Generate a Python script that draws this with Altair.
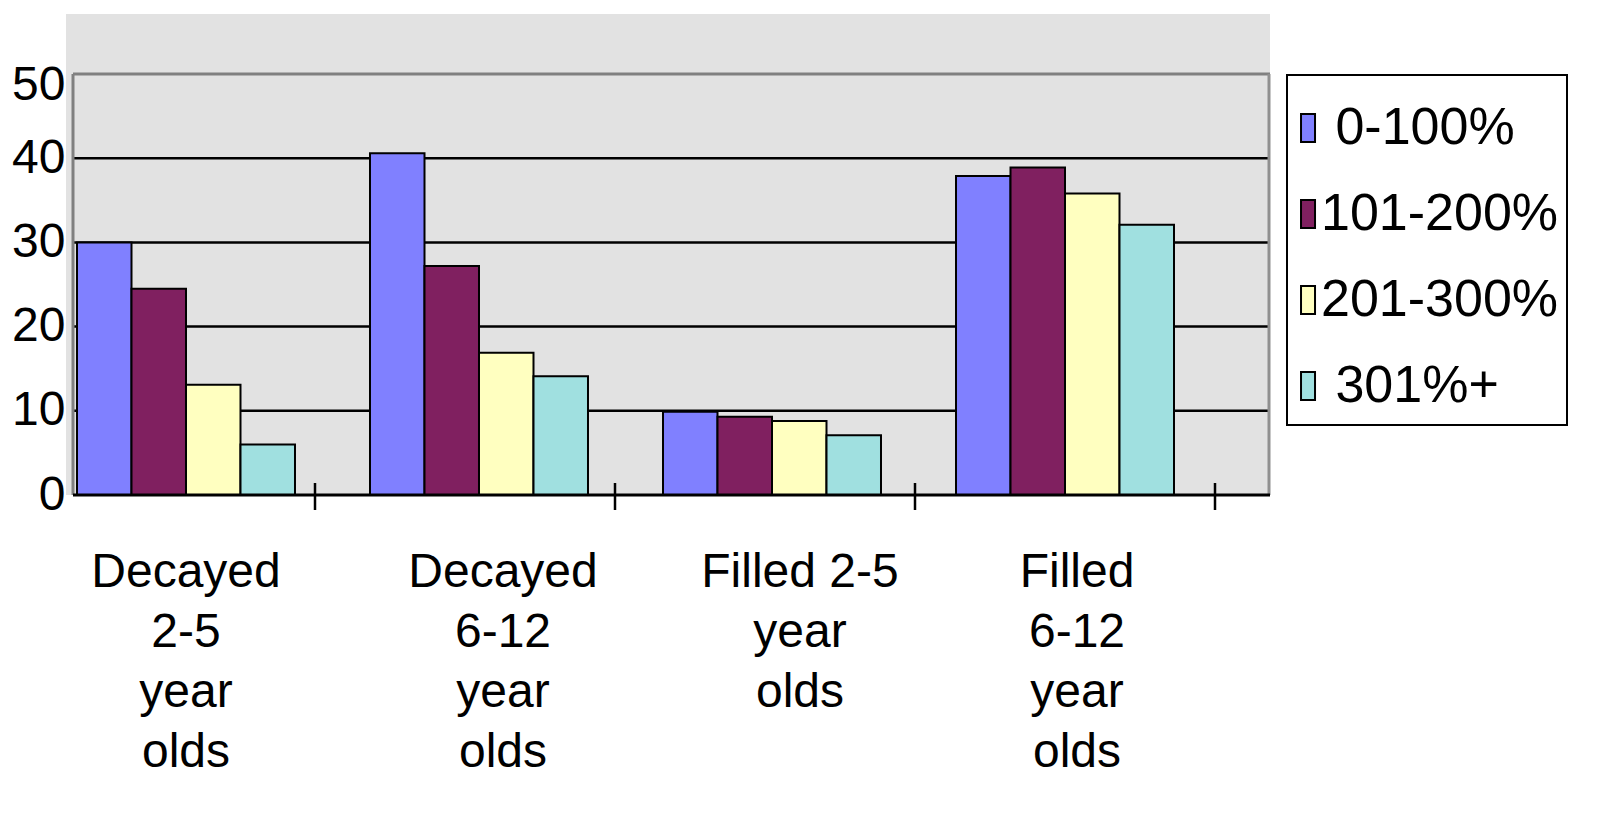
import json
import altair as alt
import pandas as pd

categories = ["Decayed 2-5 year olds", "Decayed 6-12 year olds",
              "Filled 2-5 year olds", "Filled 6-12 year olds"]
category_lines = [["Decayed", "2-5", "year", "olds"],
                  ["Decayed", "6-12", "year", "olds"],
                  ["Filled 2-5", "year", "olds"],
                  ["Filled", "6-12", "year", "olds"]]
series = ["0-100%", "101-200%", "201-300%", "301%+"]
vals_0_100 = [30.0, 40.6, 9.9, 37.9]
vals_101_200 = [24.5, 27.2, 9.3, 38.9]
vals_201_300 = [13.1, 16.9, 8.8, 35.8]
vals_301_plus = [6.0, 14.1, 7.1, 32.1]
y_ticks = [0, 10, 20, 30, 40, 50]
grid_values = [10, 20, 30, 40]
colors = ["#8080FF", "#802060", "#FFFFC0", "#A0E0E0"]

all_vals = [vals_0_100, vals_101_200, vals_201_300, vals_301_plus]
rows = []
for s, vals in zip(series, all_vals):
    for c, v in zip(categories, vals):
        rows.append({"category": c, "series": s, "value": v})
df = pd.DataFrame(rows)
cat_df = pd.DataFrame({"category": categories})
grid_df = pd.DataFrame({"v": grid_values})
one_df = pd.DataFrame({"a": [0]})

W, H = 1204, 481
ymax = 50 * H / 421
FONT = "Liberation Sans"

y_scale = alt.Scale(domain=[0, ymax], nice=False, zero=True)
y_axis = alt.Axis(title=None, values=y_ticks, domain=False, ticks=False, grid=False,
                  labelFontSize=48, labelFont=FONT, labelColor="black", labelPadding=1,
                  labelOffset={"condition": {"test": "datum.value == 50", "value": 11},
                               "value": 0})

label_map = "{" + ",".join(f"{json.dumps(c)}: {json.dumps(l)}" for c, l in zip(categories, category_lines)) + "}[datum.label]"
# per-label horizontal nudge (Excel placed the wrapped labels slightly off-centre)
x_label_offset = {
    "condition": [
        {"test": f"datum.value == '{categories[1]}'", "value": 24},
        {"test": f"datum.value == '{categories[2]}'", "value": 28},
        {"test": f"datum.value == '{categories[3]}'", "value": 12},
    ],
    "value": 0,
}
# Vega trims leading whitespace, so a zero-width char keeps the indent space
legend_expr = "(datum.label == '0-100%' || datum.label == '301%+') ? '\u200b\u00a0' + datum.label : datum.label"

gridlines = alt.Chart(grid_df).mark_rule(color="black", strokeWidth=2.5).encode(
    y=alt.Y("v:Q", scale=y_scale, axis=y_axis),
    x=alt.value(7), x2=alt.value(W),
)
top_frame = alt.Chart(one_df).mark_rule(color="#808080", strokeWidth=3).encode(
    y=alt.datum(50), x=alt.value(7), x2=alt.value(W),
)
left_frame = alt.Chart(one_df).mark_rule(color="#808080", strokeWidth=3).encode(
    x=alt.value(7), y=alt.datum(50), y2=alt.datum(0),
)
right_frame = alt.Chart(one_df).mark_rule(color="#909090", strokeWidth=3).encode(
    x=alt.value(W - 1), y=alt.datum(50), y2=alt.datum(0),
)

bars = alt.Chart(df).mark_bar(stroke="black", strokeWidth=2, opacity=1).encode(
    x=alt.X("category:N", sort=categories,
            scale=alt.Scale(range=[11, 1108], paddingInner=0.256, paddingOuter=0),
            axis=alt.Axis(title=None, domain=False, ticks=False, labelAngle=0,
                          labelFontSize=48, labelFont=FONT, labelColor="black",
                          labelPadding=53, labelLineHeight=60, labelAlign="center",
                          labelBaseline="top", labelLimit=0, labelOverlap=False,
                          labelOffset=x_label_offset,
                          labelExpr=label_map)),
    xOffset=alt.XOffset("series:N", sort=series,
                        scale=alt.Scale(paddingInner=0, paddingOuter=0)),
    y=alt.Y("value:Q", scale=y_scale, axis=y_axis),
    fill=alt.Fill("series:N", sort=series,
                  scale=alt.Scale(domain=series, range=colors),
                  legend=alt.Legend(orient="none", legendX=1203, legendY=88, title=None,
                                    padding=0, labelFontSize=52, labelFont=FONT,
                                    labelColor="black",
                                    symbolType="M0.43,-1H1.43V1H0.43Z", symbolSize=784,
                                    symbolStrokeColor="black", symbolStrokeWidth=2,
                                    symbolOpacity=1, rowPadding=34, labelOffset=0,
                                    labelLimit=0, labelExpr=legend_expr)),
)

bottom_axis = alt.Chart(one_df).mark_rule(color="black", strokeWidth=3).encode(
    y=alt.datum(0), x=alt.value(7), x2=alt.value(W),
)

ticks = alt.Chart(cat_df).mark_rule(color="black", strokeWidth=2.5).encode(
    x=alt.X("category:N", sort=categories, bandPosition=1,
            scale=alt.Scale(range=[-51, 1149], paddingInner=0, paddingOuter=0),
            axis=None),
    y=alt.value(469), y2=alt.value(496),
)

legend_box = alt.Chart(one_df).mark_rect(fill="white", stroke="black", strokeWidth=2).encode(
    x=alt.value(1221), x2=alt.value(1501), y=alt.value(61), y2=alt.value(411),
)

chart = alt.layer(
    legend_box, gridlines, top_frame, left_frame, right_frame, bars, bottom_axis, ticks
).resolve_scale(x="independent").properties(
    width=W, height=H,
    padding={"left": 58, "top": 6, "right": 330, "bottom": 300},
    autosize=alt.AutoSizeParams(type="none"),
).configure(font=FONT).configure_view(fill="#E2E2E2", strokeWidth=0)

chart.save("out.html", embed_options={"renderer": "svg", "actions": False})
